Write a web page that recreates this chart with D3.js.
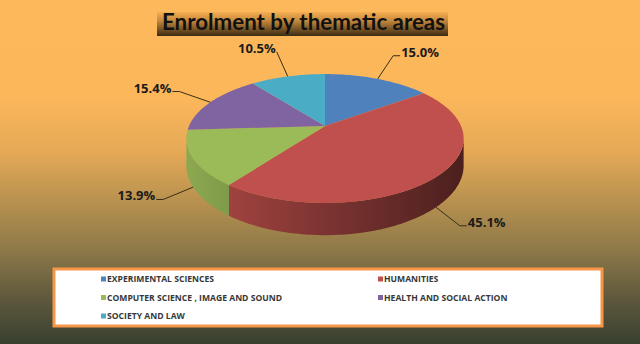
<!DOCTYPE html>
<html>
<head>
<meta charset="utf-8">
<script src="https://cdn.jsdelivr.net/npm/d3@7"></script>
<style>
  body { margin: 0; padding: 0; overflow: hidden; }
  svg { display: block; }
</style>
</head>
<body>
<script>
var width = 640;
var height = 344;

// chart data
var title = "Enrolment by thematic areas";
var areas = ["EXPERIMENTAL SCIENCES", "HUMANITIES", "COMPUTER SCIENCE , IMAGE AND SOUND",
             "HEALTH AND SOCIAL ACTION", "SOCIETY AND LAW"];
var shares = [15.0, 45.1, 13.9, 15.4, 10.5];
var colors = ["#4F81BD", "#C0504D", "#9BBB59", "#8064A2", "#4BACC6"];

// 3d pie geometry (apex = projected centre)
var cx = 325, cy = 126;
var kx = 136, ky = 62, persp = 0.194, depth = 26;

function proj(a, dz) {
  var X = Math.sin(a), Y = Math.cos(a), d = 1 + persp * Y;
  return [cx + kx * X / d, cy - ky * Y / d + dz * depth / d];
}

function arcPts(a0, a1, dz) {
  var n = Math.max(2, Math.ceil(Math.abs(a1 - a0) / 0.02));
  return d3.range(n + 1).map(function(i) { return proj(a0 + (a1 - a0) * i / n, dz); });
}

var svg = d3.select("body").append("svg")
    .attr("width", width)
    .attr("height", height);

var defs = svg.append("defs");

var bg = defs.append("linearGradient").attr("id", "bg")
    .attr("x1", 0).attr("y1", 0).attr("x2", 0).attr("y2", 1);
[[0, "#FDB85B"], [0.28, "#FCB75A"], [0.44, "#E6A957"], [0.58, "#B9924F"],
 [0.73, "#8C7848"], [0.87, "#5E583C"], [1, "#394030"]].forEach(function(s) {
  bg.append("stop").attr("offset", s[0]).attr("stop-color", s[1]);
});

var tg = defs.append("linearGradient").attr("id", "titlebg")
    .attr("x1", 0).attr("y1", 0).attr("x2", 0).attr("y2", 1);
[[0, "#F5AE52"], [0.35, "#C88A3E"], [1, "#3A2A12"]].forEach(function(s) {
  tg.append("stop").attr("offset", s[0]).attr("stop-color", s[1]);
});

svg.append("rect")
    .attr("width", width)
    .attr("height", height)
    .attr("fill", "url(#bg)");

// title
svg.append("rect")
    .attr("x", 157).attr("y", 12)
    .attr("width", 291).attr("height", 24)
    .attr("fill", "url(#titlebg)");
svg.append("text")
    .attr("x", 162).attr("y", 30)
    .attr("font-family", "Lato, 'Open Sans', sans-serif")
    .attr("font-weight", "bold")
    .attr("font-size", 22)
    .attr("textLength", 283)
    .attr("lengthAdjust", "spacingAndGlyphs")
    .attr("fill", "#111")
    .text(title);

// pie
var pie = d3.pie().sort(null).value(function(d) { return d; });
var arcs = pie(shares);

var line = d3.line();
var t0 = Math.acos(-persp), t1 = 2 * Math.PI - t0;

// side gradients
arcs.forEach(function(a, i) {
  var g = defs.append("linearGradient").attr("id", "side" + i)
      .attr("gradientUnits", "userSpaceOnUse")
      .attr("x1", cx - kx).attr("x2", cx + kx).attr("y1", 0).attr("y2", 0);
  var c = d3.rgb(colors[i]);
  g.append("stop").attr("offset", 0).attr("stop-color", c.darker(0.3));
  g.append("stop").attr("offset", 1).attr("stop-color", c.darker(2.6));
});

var pieG = svg.append("g");

arcs.forEach(function(a, i) {
  var s = Math.max(a.startAngle, t0), e = Math.min(a.endAngle, t1);
  if (s >= e) return;
  var pts = arcPts(s, e, 0).concat(arcPts(e, s, 1));
  pieG.append("path")
      .attr("d", line(pts) + "Z")
      .attr("fill", "url(#side" + i + ")");
});

arcs.forEach(function(a, i) {
  var pts = [[cx, cy]].concat(arcPts(a.startAngle, a.endAngle, 0));
  pieG.append("path")
      .attr("d", line(pts) + "Z")
      .attr("fill", colors[i]);
});

// data labels with leader lines
var labelG = svg.append("g");
arcs.forEach(function(a, i) {
  var mid = (a.startAngle + a.endAngle) / 2;
  var front = mid > t0 && mid < t1;
  var p0 = proj(mid, front ? 1 : 0);
  var p1 = [p0[0] + Math.sin(mid) * 34, p0[1] - Math.cos(mid) * 26];
  var right = Math.sin(mid) >= 0;
  var tick = Math.abs(Math.cos(mid)) > 0.9 ? 0 : 7;
  var p2 = [p1[0] + (right ? tick : -tick), p1[1]];
  labelG.append("path")
      .attr("d", line([p0, p1, p2]))
      .attr("fill", "none")
      .attr("stroke", "#3a2e18")
      .attr("stroke-width", 1);
  labelG.append("text")
      .attr("x", p2[0] + (right ? 1 : -1))
      .attr("y", p2[1] + 1)
      .attr("text-anchor", right ? "start" : "end")
      .attr("font-family", "'Open Sans', sans-serif")
      .attr("font-weight", "bold")
      .attr("font-size", 13)
      .attr("fill", "#1a1a1a")
      .text(shares[i].toFixed(1) + "%");
});

// legend
var legend = svg.append("g");
legend.append("rect")
    .attr("x", 54).attr("y", 269)
    .attr("width", 548).attr("height", 57)
    .attr("fill", "#fff")
    .attr("stroke", "#F79646")
    .attr("stroke-width", 3);

var colX = d3.scaleOrdinal().domain([0, 1]).range([101, 378]);
var rowY = d3.scaleLinear().domain([0, 2]).range([279, 316]);

areas.forEach(function(name, i) {
  var gx = colX(i % 2), gy = rowY(Math.floor(i / 2));
  legend.append("rect")
      .attr("x", gx).attr("y", gy - 2.5)
      .attr("width", 5).attr("height", 5)
      .attr("fill", colors[i]);
  legend.append("text")
      .attr("x", gx + 6).attr("y", gy + 3)
      .attr("font-family", "'Open Sans', sans-serif")
      .attr("font-weight", "bold")
      .attr("font-size", 8.6)
      .attr("fill", "#383838")
      .text(name);
});
</script>
</body>
</html>
